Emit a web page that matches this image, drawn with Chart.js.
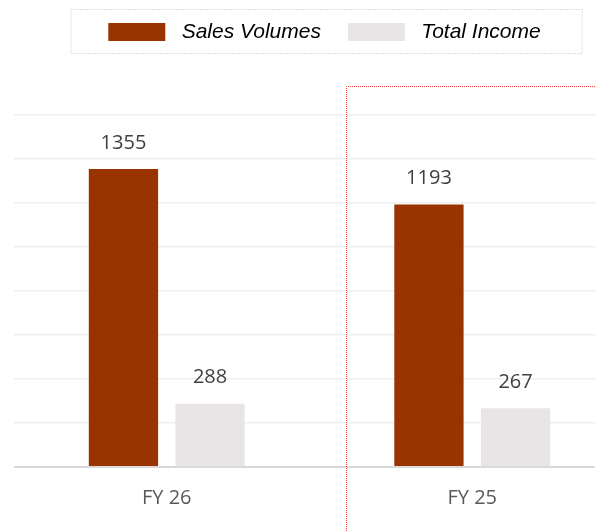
<!DOCTYPE html>
<html>
<head>
<meta charset="utf-8">
<script src="https://cdn.jsdelivr.net/npm/chart.js@4"></script>
<style>
  html, body { margin: 0; padding: 0; background: #fff; }
  #wrap { width: 595px; height: 531px; overflow: hidden; position: relative; }
  #inner { width: 640px; height: 531px; position: absolute; left: 0; top: 0; }
</style>
</head>
<body>
<div id="wrap"><div id="inner"><canvas id="chart"></canvas></div></div>
<script>
// data
const categories = ['FY 26', 'FY 25'];
const salesVolumes = [1355, 1193];
const totalIncome = [288, 267];
const seriesNames = ['Sales Volumes', 'Total Income'];

const SALES_COLOR = '#993300';
const INCOME_COLOR = '#e9e5e6';

// extra room between legend and plot
const legendSpacer = {
  id: 'legendSpacer',
  beforeInit(chart) {
    const fit = chart.legend.fit;
    chart.legend.fit = function () {
      fit.call(this);
      this.height += 57;
    };
  },
  afterLayout(chart) {
    const lg = chart.legend;
    lg.left += 5;
    lg.right += 5;
    lg.top -= 5.5;
  }
};

// dotted frame round the legend
const legendFrame = {
  id: 'legendFrame',
  afterDraw(chart) {
    const lg = chart.legend;
    const ctx = chart.ctx;
    const cx = (lg.left + lg.right) / 2;
    ctx.save();
    ctx.strokeStyle = '#d6deea';
    ctx.lineWidth = 1;
    ctx.setLineDash([2, 1]);
    ctx.strokeRect(cx - 255.5 + 2, 9.5, 511, 44);
    ctx.restore();
  }
};

// numbers above the bars
const valueLabels = {
  id: 'valueLabels',
  afterDatasetsDraw(chart) {
    const ctx = chart.ctx;
    ctx.save();
    ctx.font = '20px "Open Sans"';
    ctx.fillStyle = '#404040';
    ctx.textAlign = 'center';
    ctx.textBaseline = 'middle';
    chart.data.datasets.forEach((ds, i) => {
      chart.getDatasetMeta(i).data.forEach((bar, j) => {
        ctx.fillText(String(ds.data[j]), bar.x, bar.y - 26);
      });
    });
    ctx.restore();
  }
};

// red dotted selection edge
const selectionEdge = {
  id: 'selectionEdge',
  afterDraw(chart) {
    const ctx = chart.ctx;
    ctx.save();
    ctx.strokeStyle = '#f03c3c';
    ctx.lineWidth = 1;
    ctx.setLineDash([1, 1]);
    ctx.beginPath();
    ctx.moveTo(346.5, chart.height);
    ctx.lineTo(346.5, 86.5);
    ctx.lineTo(chart.width, 86.5);
    ctx.stroke();
    ctx.restore();
  }
};

new Chart(document.getElementById('chart'), {
  type: 'bar',
  data: {
    labels: categories,
    datasets: [
      {
        label: ' ' + seriesNames[0],
        data: salesVolumes,
        backgroundColor: SALES_COLOR,
        borderWidth: 0,
        categoryPercentage: 0.567,
        barPercentage: 0.8
      },
      {
        label: ' ' + seriesNames[1],
        data: totalIncome,
        backgroundColor: INCOME_COLOR,
        borderWidth: 0,
        categoryPercentage: 0.567,
        barPercentage: 0.8
      }
    ]
  },
  options: {
    responsive: true,
    maintainAspectRatio: false,
    animation: false,
    layout: {
      padding: { left: 14, right: 15, top: 0, bottom: 2 }
    },
    plugins: {
      legend: {
        position: 'top',
        labels: {
          boxWidth: 57,
          boxHeight: 18,
          padding: 27,
          color: '#000',
          font: { family: '"Liberation Sans", Arial, sans-serif', size: 21, style: 'italic' }
        }
      },
      tooltip: { enabled: false }
    },
    scales: {
      x: {
        offset: true,
        grid: { display: false, drawTicks: false },
        border: { display: false },
        ticks: {
          padding: 19,
          color: '#595959',
          font: { family: '"Open Sans"', size: 20 }
        }
      },
      y: {
        min: 0,
        max: 1600,
        ticks: { display: false, stepSize: 200 },
        border: { display: false },
        grid: {
          drawTicks: false,
          color: ctx => ctx.tick && ctx.tick.value === 0 ? '#d9d9d9' : '#efefef',
          lineWidth: ctx => ctx.tick && ctx.tick.value === 0 ? 2 : 1.5
        }
      }
    }
  },
  plugins: [legendSpacer, legendFrame, valueLabels, selectionEdge]
});
</script>
</body>
</html>
